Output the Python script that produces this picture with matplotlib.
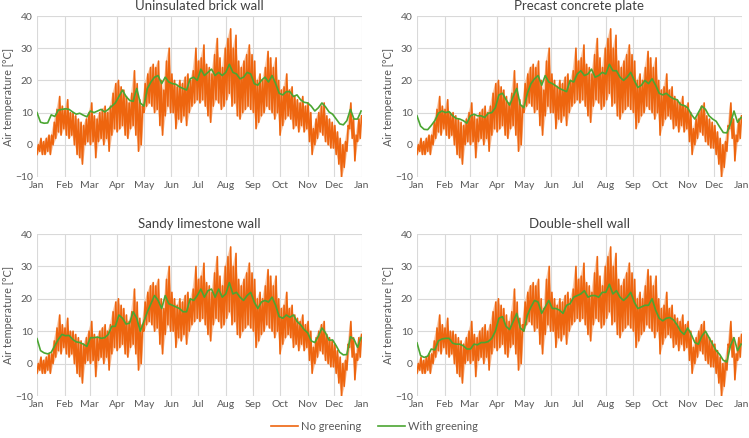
import numpy as np
import matplotlib
matplotlib.use("Agg")
import matplotlib.pyplot as plt

plt.rcParams['font.family'] = ['Lato', 'DejaVu Sans']

month_labels = ["Jan", "Feb", "Mar", "Apr", "May", "Jun", "Jul", "Aug", "Sep", "Oct", "Nov", "Dec", "Jan"]
month_starts = [0, 31, 59, 90, 120, 151, 181, 212, 243, 273, 304, 334, 365]

titles = ["Uninsulated brick wall", "Precast concrete plate", "Sandy limestone wall", "Double-shell wall"]

# Outdoor air (no greening): 3-day samples of daily max / min [°C]
no_green_max = [0, 2, 1, 2, 3, 3, 7, 11, 15, 12,
                11, 14, 10, 10, 9, 8, 7, 6, 8, 10,
                13, 9, 8, 10, 11, 12, 10, 12, 16, 19,
                20, 18, 17, 15, 13, 16, 23, 19, 14, 12,
                19, 22, 24, 25, 24, 26, 20, 17, 26, 30,
                22, 20, 18, 20, 19, 21, 22, 20, 23, 30,
                26, 27, 31, 25, 24, 22, 28, 33, 27, 24,
                30, 33, 36, 30, 34, 26, 24, 26, 28, 31,
                28, 26, 20, 22, 20, 24, 29, 27, 24, 27,
                20, 17, 18, 22, 17, 18, 15, 14, 13, 15,
                12, 13, 10, 5, 8, 10, 12, 13, 9, 8,
                7, 6, 4, 2, 0, 1, 6, 13, 8, 3,
                8, 9]
no_green_min = [-3, -2, -3, -3, -2, -3, 0, 2, 4, 3,
                5, 3, 2, 3, 0, -3, -4, -6, 0, 1,
                0, 1, -4, 1, 2, 0, 2, -2, 3, 5,
                4, 5, 6, 3, 2, 5, 6, 3, -2, 0,
                10, 12, 13, 12, 10, 11, 6, 3, 9, 12,
                10, 10, 5, 8, 7, 9, 6, 10, 12, 13,
                14, 13, 14, 12, 9, 7, 12, 14, 13, 11,
                12, 14, 16, 12, 13, 9, 8, 10, 11, 12,
                11, 10, 5, 7, 9, 10, 12, 11, 10, 8,
                10, 3, 6, 8, 9, 8, 5, 6, 4, 6,
                4, 5, 1, -3, 0, 2, 4, 3, 1, 0,
                -1, -1, -3, -6, -10, -7, -2, 5, 2, -5,
                1, 2]

# With greening: 4-day samples per wall type [°C]
green_brick = [10, 7, 6.7, 6.8, 9.3, 8.8, 10.8, 11, 11.2, 11,
               10.2, 9.5, 9.8, 9.2, 8.7, 10.5, 10, 10.5, 11, 10.2,
               11, 12, 13, 15, 17, 15, 13.8, 13.5, 17.5, 13,
               12, 17.5, 19.5, 21, 21.5, 19, 21, 19.5, 19, 18.8,
               18, 17.5, 17, 20.5, 21, 20, 23.5, 21.5, 22.5, 23.5,
               21.5, 22.5, 21.5, 22.5, 25, 22.5, 22, 20.5, 21, 22.5,
               22, 19, 18.5, 20, 21, 19.5, 21.5, 19, 16, 15.5,
               16.5, 16.5, 15, 15.5, 14, 13.2, 13, 12, 10.5, 11.5,
               13, 11.8, 10.2, 9.5, 8, 6.5, 6.2, 7.5, 11, 8,
               8, 10.5]
green_concrete = [9, 5.8, 4.8, 4.7, 6, 7.5, 9.8, 10.5, 10, 10.3,
                  9, 8.2, 8, 7.5, 6.7, 9, 9.5, 9, 9, 8.5,
                  9.8, 10, 11.5, 15.5, 16, 14, 12.3, 15, 17.5, 12.5,
                  11.5, 16, 19, 20.5, 21.5, 18.5, 21.5, 19.5, 19, 18.3,
                  17.5, 17, 16.5, 20, 19.5, 22, 23, 21.5, 22, 23.5,
                  21, 21.5, 22.5, 22, 25, 23, 23, 21, 20, 21,
                  22.5, 20, 17.8, 18.5, 20, 19, 20.5, 18.5, 16, 15.5,
                  16, 15, 14.3, 14, 12.5, 12.2, 11.5, 9.5, 8, 10,
                  12, 11, 9, 8, 7.3, 5.5, 3.8, 3.7, 6.5, 10.5,
                  7, 8.5]
green_limestone = [7.7, 4, 3.3, 3, 3.5, 5.5, 7.5, 9, 8.6, 8.7,
                   7.5, 6.7, 6.5, 6, 5.3, 8, 8, 8.2, 7.8, 8,
                   9, 11.5, 11.5, 15, 14, 12.2, 12.5, 16, 14, 10,
                   13, 16, 18.5, 21, 19.5, 17, 21, 18.5, 18, 17.5,
                   17, 16, 16, 20, 19.5, 21, 23, 20.5, 22.5, 23,
                   20.5, 23, 20.5, 21.5, 25, 21.5, 22, 20.5, 19.5, 21,
                   22, 19, 17, 19, 19.5, 19, 20.5, 18, 14.5, 14,
                   15, 14.3, 15, 13, 12, 10.5, 9.5, 7, 6.5, 8.5,
                   11, 9.5, 7.2, 7.3, 5.5, 3.5, 2.7, 2.8, 8.3, 7.5,
                   5, 8]
green_double = [6.4, 2.5, 1.9, 2.3, 4.5, 4.2, 7, 7.6, 7.8, 7.8,
                6.3, 6, 6, 5.5, 4.5, 4.5, 6, 5.8, 6.5, 6.5,
                6.8, 7.8, 10, 14, 14.5, 11.5, 10.5, 13, 15.5, 11,
                10, 15, 17.5, 19.5, 19, 15.5, 17.5, 19.5, 17, 17,
                16.5, 15.5, 18, 18.5, 20.5, 21, 21.5, 22.5, 20.5, 21,
                21, 20.5, 22, 22, 24.5, 21.5, 22.5, 20.5, 19.5, 20.5,
                22, 19, 17, 17.5, 18, 18, 20, 16.5, 14, 13.2,
                14, 14.2, 13.5, 12, 10, 9, 11, 9, 6.5, 6,
                8.5, 10, 8, 6, 4, 2.8, 1, 0.5, 5.5, 8,
                4, 6]
green_series = [green_brick, green_concrete, green_limestone, green_double]

ORANGE = "#EE650F"
ORANGE_LIGHT = "#F4A775"
GREEN = "#4BA632"
TXT = "#595959"

W, H = 749, 438
fig = plt.figure(figsize=(W / 100, H / 100), dpi=100)

boxes = [(37, 16, 362, 177), (417, 16, 742, 177),
         (37, 234, 362, 396), (417, 234, 742, 396)]

ng_days = np.arange(0, 365, 3)[:len(no_green_max)]
ng_x = np.column_stack([ng_days, ng_days + 1.5]).ravel()
ng_y = np.column_stack([no_green_min, no_green_max]).ravel()

for (x0, y0, x1, y1), title, gvals in zip(boxes, titles, green_series):
    ax = fig.add_axes([x0 / W, 1 - y1 / H, (x1 - x0) / W, (y1 - y0) / H])
    ax.fill_between(ng_days, no_green_min, no_green_max, color=ORANGE_LIGHT,
                    lw=0, alpha=0.6, zorder=1)
    ax.plot(ng_x, ng_y, color=ORANGE, lw=1.2, zorder=2, label="No greening")
    gdays = np.arange(0, 365, 4)[:len(gvals)]
    ax.plot(gdays, gvals, color=GREEN, lw=1.2, zorder=3, label="With greening")
    ax.set_xlim(0, 365)
    ax.set_ylim(-10, 40)
    ax.set_yticks([-10, 0, 10, 20, 30, 40])
    ax.set_xticks(month_starts)
    ax.set_xticklabels(month_labels)
    ax.grid(True, color="#D9D9D9", lw=0.8, zorder=0)
    ax.set_axisbelow(True)
    for s in ax.spines.values():
        s.set_visible(False)
    ax.tick_params(length=0, labelsize=7.5, colors=TXT, pad=3)
    ax.set_ylabel("Air temperature [°C]", fontsize=7.8, color=TXT)
    ax.yaxis.set_label_coords(-0.072, 0.5)
    ax.set_title(title, fontsize=9.5, color="#404040", pad=4)

handles, labels = ax.get_legend_handles_labels()
fig.legend(handles, labels, loc="lower center", ncol=2, frameon=False,
           bbox_to_anchor=(0.5, -0.01), fontsize=8, labelcolor=TXT,
           handlelength=2.4, columnspacing=1.5, handletextpad=0.3)

fig.savefig("out.png", dpi=100)
